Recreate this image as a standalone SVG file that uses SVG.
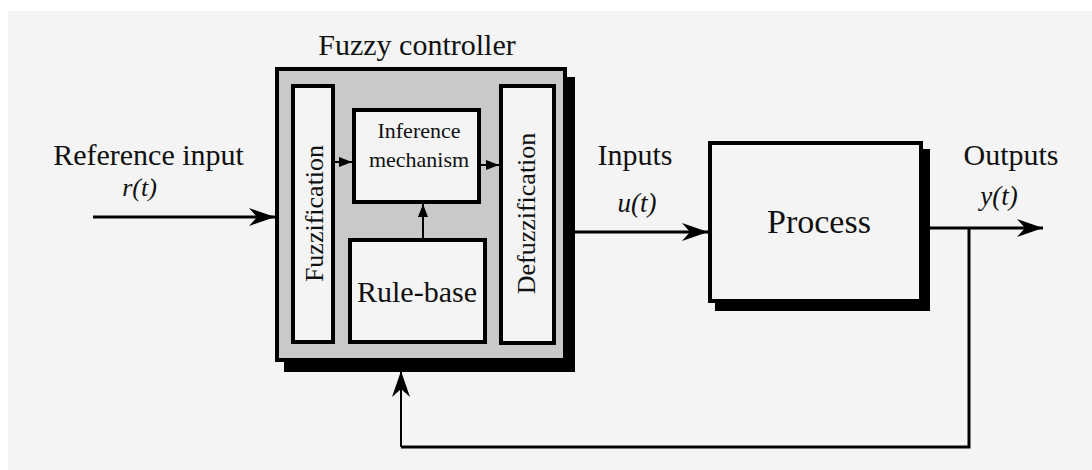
<svg xmlns="http://www.w3.org/2000/svg" width="1092" height="470" viewBox="0 0 1092 470">
<defs>
<style>
text{font-family:"Liberation Serif","Times New Roman",serif;fill:#111;}
.it{font-style:italic;}
.box{stroke:#000;stroke-width:4;}
.light{fill:#f4f4f4;}
.wire{fill:none;stroke:#000;stroke-width:3;}
.thin{fill:none;stroke:#000;stroke-width:2;}
</style>
<marker id="big" viewBox="-26 -10 27 20" refX="0" refY="0" markerWidth="27" markerHeight="20" markerUnits="userSpaceOnUse" orient="auto">
<path d="M0,0 L-26,-9 L-18,0 L-26,9 Z" fill="#000"/>
</marker>
<marker id="small" viewBox="-14 -6 15 12" refX="0" refY="0" markerWidth="15" markerHeight="12" markerUnits="userSpaceOnUse" orient="auto">
<path d="M0,0 L-13,-5 L-13,5 Z" fill="#000"/>
</marker>
</defs>
<rect x="0" y="0" width="1092" height="470" fill="#ffffff"/>
<rect x="8" y="11" width="1084" height="459" fill="#f4f4f4"/>

<g id="fuzzy-controller">
<rect x="284" y="77" width="291" height="295" fill="#000"/>
<rect class="box" x="277" y="69" width="288" height="291" fill="#c9c9c9"/>
<text x="417" y="55" font-size="30" text-anchor="middle">Fuzzy controller</text>
</g>
<g id="fuzzification">
<rect class="box light" x="293" y="86" width="40" height="256"/>
<text x="323" y="213.5" font-size="26" text-anchor="middle" transform="rotate(-90 323 213.5)">Fuzzification</text>
</g>
<g id="inference">
<rect class="box light" x="354" y="110" width="125" height="92"/>
<text x="419" y="138" font-size="22" text-anchor="middle">Inference</text>
<text x="419" y="167" font-size="22" text-anchor="middle">mechanism</text>
</g>
<g id="rule-base">
<rect class="box light" x="350" y="240" width="135" height="102"/>
<text x="417" y="302" font-size="30" text-anchor="middle">Rule-base</text>
</g>
<g id="defuzzification">
<rect class="box light" x="501" y="86" width="53" height="257"/>
<text x="535" y="213.5" font-size="26" text-anchor="middle" transform="rotate(-90 535 213.5)">Defuzzification</text>
</g>
<g id="process">
<rect x="715" y="149" width="215" height="162" fill="#000"/>
<rect class="box light" x="710" y="143" width="211" height="158"/>
<text x="819" y="233" font-size="34" text-anchor="middle">Process</text>
</g>
<g id="labels">
<text x="148.5" y="165" font-size="30" text-anchor="middle">Reference input</text>
<text class="it" x="139.5" y="196" font-size="26" text-anchor="middle">r(t)</text>
<text x="635" y="165" font-size="30" text-anchor="middle">Inputs</text>
<text class="it" x="637" y="212" font-size="27" text-anchor="middle">u(t)</text>
<text x="1011" y="165" font-size="30" text-anchor="middle">Outputs</text>
<text class="it" x="999" y="205" font-size="27" text-anchor="middle">y(t)</text>
</g>
<g id="connectors">
<line class="wire" x1="93" y1="217" x2="275" y2="217" marker-end="url(#big)"/>
<line class="wire" x1="575" y1="232" x2="708" y2="232" marker-end="url(#big)"/>
<line class="wire" x1="930" y1="228" x2="1043" y2="228" marker-end="url(#big)"/>
<polyline class="wire" points="969,228 969,447 401,447" stroke-linejoin="miter"/>
<line class="thin" x1="401" y1="447" x2="401" y2="371" marker-end="url(#big)"/>
<line class="thin" x1="335" y1="162" x2="352" y2="162" marker-end="url(#small)"/>
<line class="thin" x1="481" y1="165" x2="499" y2="165" marker-end="url(#small)"/>
<line class="thin" x1="423" y1="238" x2="423" y2="204" marker-end="url(#small)"/>
</g>
</svg>
